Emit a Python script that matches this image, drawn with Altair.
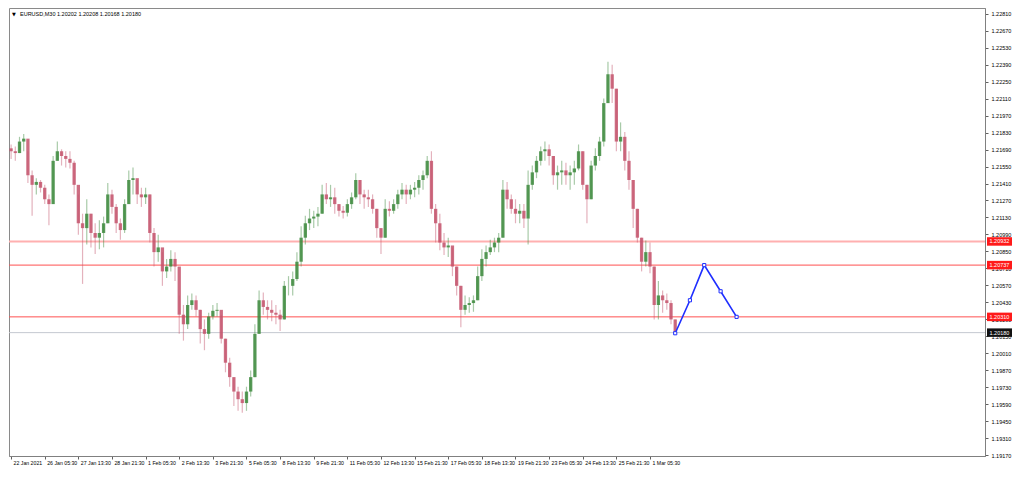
import altair as alt
import pandas as pd

# ---------------- data ----------------
first_open = 1.21700
highs = [
    1.21732, 1.21716, 1.21795, 1.21819, 1.21676, 1.21518, 1.21454, 1.21439, 1.21399, 1.21320,
    1.21637, 1.21756, 1.21692, 1.21676, 1.21676, 1.21597, 1.21320, 1.21161, 1.21280, 1.21161,
    1.21082, 1.21106, 1.21137, 1.21415, 1.21359, 1.21240, 1.21121, 1.21280, 1.21518, 1.21542,
    1.21439, 1.21375, 1.21375, 1.21320, 1.21042, 1.20987, 1.20844, 1.20788, 1.20860, 1.20844,
    1.20487, 1.20408, 1.20487, 1.20503, 1.20487, 1.20368, 1.20289, 1.20344, 1.20408, 1.20424,
    1.20328, 1.20130, 1.19972, 1.19813, 1.19734, 1.19694, 1.19734, 1.19868, 1.20249, 1.20527,
    1.20511, 1.20447, 1.20447, 1.20408, 1.20368, 1.20606, 1.20646, 1.20685, 1.20844, 1.21058,
    1.21145, 1.21201, 1.21185, 1.21217, 1.21399, 1.21415, 1.21399, 1.21375, 1.21240, 1.21224,
    1.21280, 1.21336, 1.21494, 1.21439, 1.21359, 1.21359, 1.21320, 1.21201, 1.21042, 1.21280,
    1.21264, 1.21280, 1.21359, 1.21415, 1.21399, 1.21399, 1.21423, 1.21478, 1.21518, 1.21637,
    1.21676, 1.21240, 1.21161, 1.21002, 1.20963, 1.20883, 1.20725, 1.20566, 1.20487, 1.20471,
    1.20487, 1.20725, 1.20868, 1.20899, 1.20947, 1.20963, 1.21002, 1.21439, 1.21423, 1.21320,
    1.21280, 1.21240, 1.21240, 1.21518, 1.21558, 1.21637, 1.21716, 1.21756, 1.21732, 1.21637,
    1.21558, 1.21597, 1.21581, 1.21558, 1.21597, 1.21732, 1.21676, 1.21399, 1.21597, 1.21700,
    1.21795, 1.22112, 1.22414, 1.22390, 1.22192, 1.21914, 1.21835, 1.21676, 1.21439, 1.21201,
    1.20963, 1.20939, 1.20923, 1.20725, 1.20606, 1.20527, 1.20503, 1.20447, 1.20289,
]
lows = [
    1.21613, 1.21597, 1.21661, 1.21676, 1.21415, 1.21145, 1.21320, 1.21336, 1.21240, 1.21066,
    1.21240, 1.21597, 1.21558, 1.21542, 1.21534, 1.21320, 1.20987, 1.20582, 1.20907, 1.20883,
    1.20828, 1.20868, 1.20883, 1.21082, 1.21161, 1.21002, 1.20947, 1.21002, 1.21240, 1.21320,
    1.21240, 1.21217, 1.21240, 1.20923, 1.20725, 1.20765, 1.20566, 1.20630, 1.20685, 1.20606,
    1.20170, 1.20114, 1.20209, 1.20368, 1.20313, 1.20090, 1.20035, 1.20130, 1.20289, 1.20313,
    1.20090, 1.19853, 1.19734, 1.19575, 1.19535, 1.19520, 1.19535, 1.19654, 1.19813, 1.20170,
    1.20328, 1.20289, 1.20273, 1.20249, 1.20194, 1.20289, 1.20487, 1.20487, 1.20606, 1.20725,
    1.20907, 1.21026, 1.21042, 1.21058, 1.21161, 1.21240, 1.21217, 1.21161, 1.21137, 1.21121,
    1.21137, 1.21201, 1.21280, 1.21240, 1.21201, 1.21217, 1.21161, 1.20963, 1.20828, 1.20963,
    1.21137, 1.21161, 1.21201, 1.21280, 1.21240, 1.21280, 1.21296, 1.21320, 1.21359, 1.21454,
    1.21161, 1.20923, 1.20860, 1.20820, 1.20804, 1.20646, 1.20487, 1.20225, 1.20328, 1.20344,
    1.20352, 1.20447, 1.20606, 1.20725, 1.20820, 1.20844, 1.20844, 1.20963, 1.21201, 1.21161,
    1.21082, 1.21082, 1.21042, 1.20907, 1.21359, 1.21454, 1.21558, 1.21597, 1.21558, 1.21399,
    1.21359, 1.21399, 1.21399, 1.21359, 1.21399, 1.21518, 1.21359, 1.21082, 1.21280, 1.21518,
    1.21597, 1.21716, 1.22073, 1.22073, 1.21676, 1.21676, 1.21518, 1.21359, 1.21042, 1.20923,
    1.20685, 1.20725, 1.20669, 1.20289, 1.20289, 1.20344, 1.20368, 1.20249, 1.20162,
]
closes = [
    1.21676, 1.21661, 1.21756, 1.21780, 1.21478, 1.21399, 1.21423, 1.21375, 1.21280, 1.21240,
    1.21597, 1.21676, 1.21637, 1.21613, 1.21581, 1.21399, 1.21082, 1.21042, 1.21161, 1.21002,
    1.20963, 1.21002, 1.21082, 1.21320, 1.21217, 1.21082, 1.21026, 1.21240, 1.21439, 1.21454,
    1.21320, 1.21296, 1.21320, 1.21002, 1.20844, 1.20883, 1.20685, 1.20725, 1.20788, 1.20725,
    1.20328, 1.20249, 1.20408, 1.20447, 1.20368, 1.20209, 1.20170, 1.20313, 1.20360, 1.20368,
    1.20130, 1.19932, 1.19813, 1.19694, 1.19631, 1.19599, 1.19694, 1.19813, 1.20170, 1.20447,
    1.20392, 1.20368, 1.20344, 1.20328, 1.20289, 1.20566, 1.20566, 1.20622, 1.20765, 1.20963,
    1.21082, 1.21121, 1.21137, 1.21161, 1.21320, 1.21280, 1.21296, 1.21240, 1.21185, 1.21169,
    1.21240, 1.21296, 1.21439, 1.21320, 1.21296, 1.21280, 1.21201, 1.21042, 1.20963, 1.21201,
    1.21185, 1.21240, 1.21320, 1.21359, 1.21320, 1.21359, 1.21375, 1.21439, 1.21478, 1.21597,
    1.21201, 1.21082, 1.20923, 1.20883, 1.20899, 1.20725, 1.20566, 1.20368, 1.20408, 1.20424,
    1.20447, 1.20646, 1.20788, 1.20844, 1.20883, 1.20923, 1.20963, 1.21359, 1.21280, 1.21201,
    1.21161, 1.21185, 1.21121, 1.21399, 1.21502, 1.21597, 1.21676, 1.21692, 1.21637, 1.21478,
    1.21502, 1.21518, 1.21478, 1.21502, 1.21534, 1.21676, 1.21399, 1.21280, 1.21558, 1.21637,
    1.21756, 1.22073, 1.22311, 1.22192, 1.21756, 1.21795, 1.21597, 1.21439, 1.21201, 1.20963,
    1.20765, 1.20844, 1.20725, 1.20408, 1.20487, 1.20447, 1.20424, 1.20289, 1.20180,
]

x_labels = ["22 Jan 2021", "26 Jan 05:30", "27 Jan 13:30", "28 Jan 21:30", "1 Feb 05:30",
            "2 Feb 13:30", "3 Feb 21:30", "5 Feb 05:30", "8 Feb 13:30", "9 Feb 21:30",
            "11 Feb 05:30", "12 Feb 13:30", "15 Feb 21:30", "17 Feb 05:30", "18 Feb 13:30",
            "19 Feb 21:30", "23 Feb 05:30", "24 Feb 13:30", "25 Feb 21:30", "1 Mar 05:30"]
x_tick_bars = [0, 8, 16, 24, 32, 40, 48, 56, 64, 72, 80, 88, 96, 104, 112, 120, 128, 136, 144, 152]

y_ticks = [1.22810, 1.22670, 1.22530, 1.22390, 1.22250, 1.22110, 1.21970, 1.21830, 1.21690,
           1.21550, 1.21410, 1.21270, 1.21130, 1.20990, 1.20850, 1.20710, 1.20570, 1.20430,
           1.20290, 1.20150, 1.20010, 1.19870, 1.19730, 1.19590, 1.19450, 1.19310, 1.19170]

level_main = [1.20932]
level_mid = [1.20737]
level_low = [1.20310]
current_price = [1.20180]

proj_bar = [158.0, 161.5, 164.9, 168.8, 172.6]
proj_price = [1.20175, 1.20447, 1.20737, 1.20521, 1.20310]

title_text = "EURUSD,M30  1.20202 1.20208 1.20168 1.20180"

# ---------------- frames ----------------
opens = [first_open] + closes[:-1]
bars = pd.DataFrame({
    "i": list(range(len(closes))),
    "open": opens, "high": highs, "low": lows, "close": closes,
})
bars["dir"] = ["up" if c >= o else "down" for o, c in zip(opens, closes)]

lvl_prices = level_main + level_mid + level_low
lvl_df = pd.DataFrame({"price": lvl_prices, "label": [f"{v:.5f}" for v in lvl_prices]})
cur_df = pd.DataFrame({"price": current_price, "label": [f"{v:.5f}" for v in current_price]})
proj_df = pd.DataFrame({"i": proj_bar, "price": proj_price})

W, H = 976, 448
FONT = "Liberation Sans"

x_scale = alt.Scale(domain=[-0.5, 231.7], nice=False, zero=False)
y_scale = alt.Scale(domain=[1.191625, 1.228575], nice=False, zero=False)

label_expr = "[" + ",".join(f"'{s}'" for s in x_labels) + "][round(datum.value/8)]"
x_axis = alt.Axis(values=x_tick_bars, labelExpr=label_expr, labelAlign="left",
                  labelOffset=2, tickSize=3, labelFontSize=5.2, labelFont=FONT,
                  labelColor="#000", grid=False, title=None, domainColor="#808080",
                  tickColor="#606060", labelPadding=1, labelOverlap=False)
y_axis = alt.Axis(orient="right", values=y_ticks, format=".5f", labelFontSize=5.5,
                  labelFont=FONT, labelColor="#000", tickSize=3, tickColor="#606060",
                  domainColor="#808080", grid=False, title=None, labelPadding=3,
                  labelOverlap=False)


def X(field):
    return alt.X(field, type="quantitative", scale=x_scale, axis=x_axis)


def Y(field):
    return alt.Y(field, type="quantitative", scale=y_scale, axis=y_axis)


color = alt.Color("dir:N", scale=alt.Scale(domain=["up", "down"],
                                           range=["#3d8a3d", "#c4546c"]), legend=None)

base = alt.Chart(bars)
wicks = base.mark_rule(strokeWidth=1.2, opacity=0.45).encode(
    x=X("i"), y=Y("low"), y2="high", color=color)
bodies = base.mark_rule(strokeWidth=3.3, opacity=0.85).encode(
    x=X("i"), y=Y("open"), y2="close", color=color)


def hline(values, col, sw):
    return alt.Chart(pd.DataFrame({"price": values})).mark_rule(
        stroke=col, strokeWidth=sw).encode(y=Y("price"))


main_line = hline(level_main, "#ffb0b0", 2)
mid_line = hline(level_mid, "#ff5050", 1)
low_line = hline(level_low, "#ff5050", 1)
cur_line = hline(current_price, "#c4c8d0", 1)

proj_line = alt.Chart(proj_df).mark_line(color="#1f2fff", strokeWidth=1.6).encode(
    x=X("i"), y=Y("price"))
proj_pts = alt.Chart(proj_df).mark_point(shape="square", size=10, filled=True,
                                         fill="white", stroke="#1f2fff",
                                         strokeWidth=1, opacity=1).encode(
    x=X("i"), y=Y("price"))


def price_box(df, fill):
    rect = alt.Chart(df).transform_calculate(
        lo="datum.price - 0.00035", hi="datum.price + 0.00035"
    ).mark_rect(color=fill).encode(
        x=alt.value(W + 2), x2=alt.value(W + 27), y=Y("lo:Q"), y2="hi:Q")
    txt = alt.Chart(df).mark_text(align="left", baseline="middle", fontSize=5.5,
                                  font=FONT, color="white").encode(
        x=alt.value(W + 4.5), y=Y("price"), text="label:N")
    return rect + txt


lvl_boxes = price_box(lvl_df, "#ff1a1a")
cur_box = price_box(cur_df, "#111111")

title_tri = alt.Chart(pd.DataFrame({"t": ["▼"]})).mark_text(
    align="left", baseline="middle", fontSize=5, font="DejaVu Sans", color="#000").encode(
    x=alt.value(3), y=alt.value(6), text="t:N")
title_lbl = alt.Chart(pd.DataFrame({"t": [title_text]})).mark_text(
    align="left", baseline="middle", fontSize=5.5, font=FONT, color="#000").encode(
    x=alt.value(11), y=alt.value(6), text="t:N")

chart = alt.layer(
    cur_line, main_line, mid_line, low_line, wicks, bodies, proj_line, proj_pts,
    lvl_boxes, cur_box, title_tri, title_lbl,
).properties(width=W, height=H, padding=0).configure(background="white").configure_view(
    stroke="#8a8a8a", strokeWidth=1)

chart.save("out.html", embed_options={"renderer": "svg", "actions": False})
